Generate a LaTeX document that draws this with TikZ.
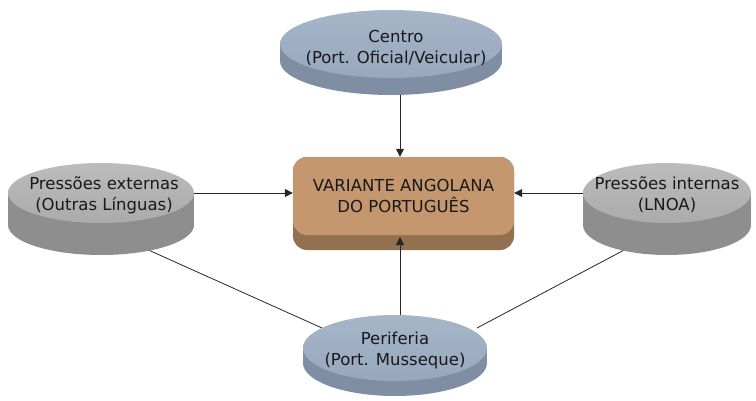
\documentclass[tikz,border=0pt]{standalone}
\usepackage{fontspec}
\setmainfont{DejaVu Sans}
\usetikzlibrary{shapes.geometric,arrows.meta}
\pgfdeclarelayer{bg}
\pgfsetlayers{bg,main}
\definecolor{blueface}{HTML}{97A8BE}
\definecolor{bluerim}{HTML}{7F8EA3}
\definecolor{greyface}{HTML}{ABABAB}
\definecolor{greyrim}{HTML}{8E8E8E}
\definecolor{boxface}{HTML}{C4976F}
\definecolor{boxrim}{HTML}{93704F}
\tikzset{
  face/.style={ellipse, inner sep=0pt},
  lbl/.style={inner sep=0pt, align=center, font=\fontsize{16.5}{21}\selectfont, text=black!90},
  conn/.style={line width=0.8pt, black!85},
  arr/.style={conn, -{Triangle[length=8pt,width=8pt]}},
}
\begin{document}
\begin{tikzpicture}[x=1pt,y=1pt]
\useasboundingbox (0,0) rectangle (756,400);
% ---- Centro disk
\fill[bluerim] (391,339) ellipse[x radius=111, y radius=34];
\fill[bluerim] (280,339) rectangle (502,356);
\node[face, minimum width=222pt, minimum height=68pt, top color=blueface!85!white, bottom color=blueface] (centro) at (391,356) {};
\node[lbl] (centroT) at (396,352) {Centro\\ (Port. Oficial/Veicular)};
\coordinate (centroB) at (400,305);
% ---- Pressoes externas
\fill[greyrim] (101,175) ellipse[x radius=93, y radius=30];
\fill[greyrim] (8,175) rectangle (194,207);
\node[face, minimum width=186pt, minimum height=60pt, top color=greyface!80!white, bottom color=greyface] (ext) at (101,207) {};
\node[lbl] (extT) at (104,205) {Pressões externas\\ (Outras Línguas)};
\coordinate (extB) at (135,156);
% ---- Pressoes internas
\fill[greyrim] (667,175) ellipse[x radius=84, y radius=30];
\fill[greyrim] (583,175) rectangle (751,207);
\node[face, minimum width=168pt, minimum height=60pt, top color=greyface!80!white, bottom color=greyface] (int) at (667,207) {};
\node[lbl] (intT) at (667,205) {Pressões internas\\ (LNOA)};
\coordinate (intB) at (628,152);
% ---- Periferia
\fill[bluerim] (395,37) ellipse[x radius=92, y radius=33];
\fill[bluerim] (303,37) rectangle (487,52);
\node[face, minimum width=184pt, minimum height=66pt, top color=blueface!85!white, bottom color=blueface] (peri) at (395,52) {};
\node[lbl] (periT2) at (395,50) {Periferia\\ (Port. Musseque)};
\coordinate (periL) at (322,72);
\coordinate (periR) at (477,72);
\coordinate (periT) at (400,85);
% ---- central box
\fill[boxrim, rounded corners=14pt] (293,150) rectangle (514,243);
\node[draw=none, fill=boxface, rounded corners=14pt, minimum width=221pt, minimum height=78pt, align=center,
      font=\fontsize{16.5}{21}\selectfont, text=black!90] (box) at (403.5,204) {VARIANTE ANGOLANA\\ DO PORTUGUÊS};
\coordinate (boxB) at (400,163);
% ---- connectors
\begin{pgfonlayer}{bg}
\draw[conn] (extB) -- (periL);
\draw[conn] (intB) -- (periR);
\end{pgfonlayer}
\draw[arr] (centroB) -- (box.north -| centroB);
\draw[arr] (ext.east) -- (box.west |- ext.east);
\draw[arr] (int.west) -- (box.east |- int.west);
\draw[arr] (periT) -- (boxB);
\end{tikzpicture}
\end{document}
